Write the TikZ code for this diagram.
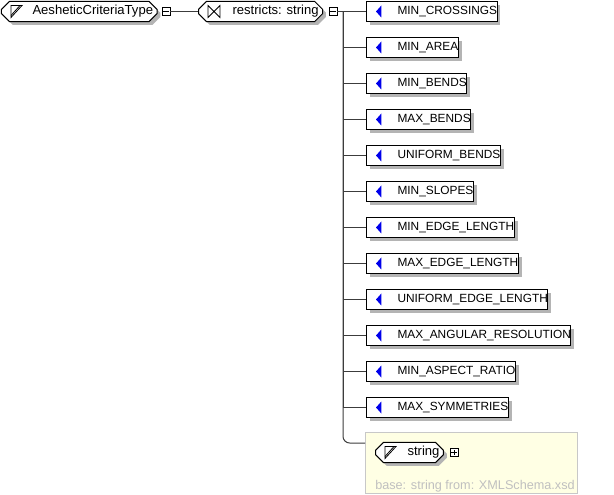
\documentclass[tikz,border=0pt]{standalone}
\usepackage{fontspec}
\setmainfont{Liberation Sans}
\usetikzlibrary{shapes.misc,shadows,positioning}
\definecolor{ShadeClr}{RGB}{180,180,180}
\definecolor{LinkClr}{RGB}{60,60,60}
\definecolor{EnumClr}{RGB}{0,0,235}
\definecolor{BaseFill}{RGB}{255,255,228}
\definecolor{BaseLine}{RGB}{200,200,200}
\definecolor{BaseText}{RGB}{192,192,192}

\tikzset{
  boxshade/.style={drop shadow={shadow xshift=2.5pt,shadow yshift=-2.5pt,fill=ShadeClr,opacity=1}},
  typebox/.style={chamfered rectangle,chamfered rectangle xsep=3pt,chamfered rectangle ysep=3pt,
    inner xsep=0pt,inner ysep=0pt,minimum height=9pt,draw,fill=white,line width=0.75pt,
    boxshade,anchor=west,font=\fontsize{9.8}{11}\selectfont},
  enumbox/.style={rectangle,draw,fill=white,line width=0.75pt,inner sep=0pt,minimum height=15pt,
    boxshade,anchor=west,font=\fontsize{8.9}{10}\selectfont},
  signbox/.style={rectangle,draw,fill=white,line width=0.6pt,inner sep=0pt,minimum size=6pt},
  basebox/.style={rectangle,draw=BaseLine,fill=BaseFill,line width=0.75pt,inner sep=0pt,
    anchor=north west,minimum width=159pt,minimum height=45.75pt},
  link/.style={draw=LinkClr,line width=0.75pt},
}

% type icon: corner triangle
\newcommand{\typeicon}[1]{%
  \draw[line width=0.6pt] ([xshift=7.5pt,yshift=4.5pt]#1.west) -- ++(8.25pt,0) -- ++(-8.25pt,-9pt) -- cycle;
  \draw[line width=0.6pt] ([xshift=14.25pt,yshift=4.5pt]#1.west) -- ++(-6.75pt,-7.5pt);}

\begin{document}
\begin{tikzpicture}[x=0.75pt,y=-0.75pt]
\useasboundingbox (0,0) rectangle (614,495);

% the complex type and its restriction
\node[typebox] (typ) at (1,11.5) {\hspace{20.25pt}AesheticCriteriaType\hspace{3.75pt}};
\typeicon{typ}
\node[signbox] (m1) at (166,11.5) {};
\draw[line width=0.6pt] ([xshift=1.3pt]m1.west) -- ([xshift=-1.3pt]m1.east);

\node[typebox] (res) at (198,11.5) {\hspace{22.5pt}restricts: string\hspace{3.75pt}};
\draw[line width=0.6pt] ([xshift=7.5pt,yshift=4.5pt]res.west) -- ++(0,-9pt) -- ++(4.5pt,4.5pt) -- cycle;
\draw[line width=0.6pt] ([xshift=16.5pt,yshift=4.5pt]res.west) -- ++(0,-9pt) -- ++(-4.5pt,4.5pt) -- cycle;
\node[signbox] (m2) at (333,11.5) {};
\draw[line width=0.6pt] ([xshift=1.3pt]m2.west) -- ([xshift=-1.3pt]m2.east);

\draw[link] (m1.east) -- (res.west);
\coordinate (jt) at (343,11.5);

% enumeration values
\foreach \lbl [count=\k from 0] in {MIN\_CROSSINGS,MIN\_AREA,MIN\_BENDS,MAX\_BENDS,UNIFORM\_BENDS,
    MIN\_SLOPES,MIN\_EDGE\_LENGTH,MAX\_EDGE\_LENGTH,UNIFORM\_EDGE\_LENGTH,
    MAX\_ANGULAR\_RESOLUTION,MIN\_ASPECT\_RATIO,MAX\_SYMMETRIES}{
  \node[enumbox] (e\k) at (366,{11.5+36*\k}) {\hspace{23.25pt}\vphantom{Ag}\lbl\hspace{8.25pt}};
  \fill[EnumClr] ([xshift=7.5pt]e\k.west) -- ++(4pt,4.5pt) -- ++(0,-9pt) -- cycle;
  \draw[link] (jt) |- (e\k.west);
}
\draw[link] (m2.east) -- (e0.west);

% base type
\node[basebox] (base) at (365,432) {};
\coordinate (bin) at (365,443);
\draw[link,rounded corners=5pt] (jt) |- (bin);

\node[typebox] (str) at (375,452.5) {\hspace{21pt}string\hspace{3.75pt}};
\typeicon{str}
\node[signbox] (p3) at (454,452.5) {};
\draw[line width=0.6pt] ([xshift=1.3pt]p3.west) -- ([xshift=-1.3pt]p3.east);
\draw[line width=0.6pt] ([yshift=1.3pt]p3.south) -- ([yshift=-1.3pt]p3.north);
\node[anchor=base west,inner sep=0pt,text=BaseText,font=\fontsize{9.5}{11}\selectfont] (btxt) at (375,489) {base: string from: XMLSchema.xsd};

\end{tikzpicture}
\end{document}
